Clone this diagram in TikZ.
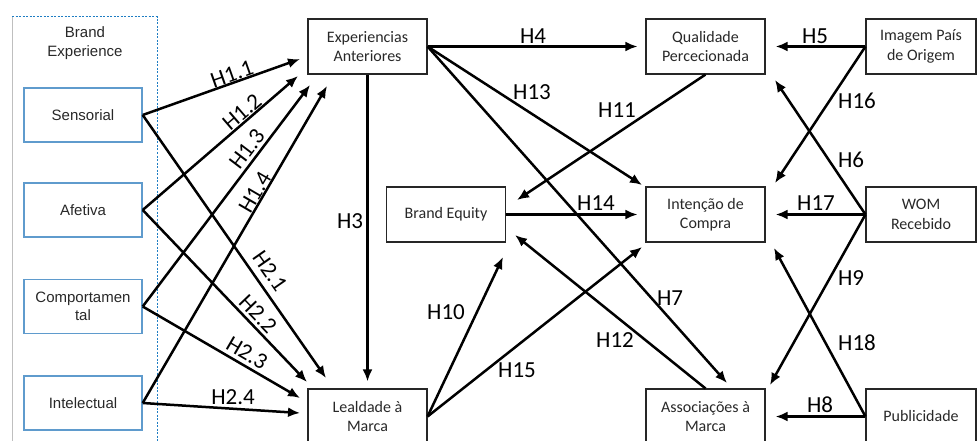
\documentclass[tikz,border=0pt]{standalone}
\usepackage{fontspec}
\setmainfont{Carlito}
\newfontfamily\arialf{Liberation Sans}
\usetikzlibrary{arrows.meta,calc}
\definecolor{boxblue}{RGB}{95,155,205}
\definecolor{dashblue}{RGB}{30,125,195}
\definecolor{txtgray}{RGB}{40,40,40}
\begin{document}
\begin{tikzpicture}[x=1pt,y=-1pt,
  box/.style={draw=black!85, line width=1.1pt, minimum width=119pt, minimum height=55pt, inner sep=0pt, align=center, font=\fontsize{16}{19.5}\selectfont, text=txtgray},
  lbox/.style={draw=boxblue, line width=1.4pt, minimum width=118pt, minimum height=54pt, inner sep=0pt, align=center, font=\arialf\fontsize{15}{18.5}\selectfont, text=txtgray},
  arr/.style={line width=2.5pt, -{Latex[length=12pt,width=10pt]}},
  hl/.style={font=\fontsize{23}{23}\selectfont, inner sep=0pt},
]
\useasboundingbox (0,0) rectangle (977,441);
% outer group frame
\draw[black!25, line width=1pt] (12,17) -- (12,445);
\draw[dashblue, line width=1pt, dash pattern=on 2pt off 1.5pt] (12,17) -- (157,17) -- (157,445);
\node[align=center, font=\arialf\fontsize{15}{18.5}\selectfont, text=txtgray] (bexp) at (85,43) {Brand\\Experience};
% left boxes
\node[lbox] (sens) at (83,115) {Sensorial};
\node[lbox] (afet) at (83,210) {Afetiva};
\node[lbox] (comp) at (83,306.5) {Comportamen\\tal};
\node[lbox] (intel) at (83,403) {Intelectual};
% other boxes
\node[box] (exp) at (367.5,46.5) {Experiencias\\Anteriores};
\node[box] (qual) at (705.5,46.5) {Qualidade\\Percecionada};
\node[box, minimum width=110pt] (img) at (921,46.5) {Imagem País\\de Origem};
\node[box] (beq) at (446,214.5) {Brand Equity};
\node[box] (int) at (705.5,214.5) {Intenção de\\Compra};
\node[box, minimum width=110pt] (wom) at (921,214.5) {WOM\\Recebido};
\node[box] (leal) at (367.5,416.5) {Lealdade à\\Marca};
\node[box] (assoc) at (705.5,416.5) {Associações à\\Marca};
\node[box, minimum width=110pt] (pub) at (921,416.5) {Publicidade};
% tip coordinates
\coordinate (tA1) at (300,59);
\coordinate (tA2) at (298,76);
\coordinate (tA3) at (310,85);
\coordinate (tA4) at (327,86);
\coordinate (tB1) at (326,378);
\coordinate (tB2) at (307,382);
\coordinate (tB3) at (300,398);
\coordinate (tB4) at (300,413);
\coordinate (tH13) at (642,185);
\coordinate (tH7) at (727,383);
\coordinate (tH11) at (517,200);
\coordinate (tH10) at (503,257);
\coordinate (tH15) at (642,247);
\coordinate (tH12) at (515,235);
\coordinate (tH16) at (775,183);
\coordinate (tH6) at (775,80);
\coordinate (tH9) at (770,385);
\coordinate (tH18) at (774,248);
% arrows
\draw[arr] (sens.east) -- (tA1);
\draw[arr] (afet.east) -- (tA2);
\draw[arr] (comp.east) -- (tA3);
\draw[arr] (intel.east) -- (tA4);
\draw[arr] (sens.east) -- (tB1);
\draw[arr] (afet.east) -- (tB2);
\draw[arr] (comp.east) -- (tB3);
\draw[arr] (intel.east) -- (tB4);
\draw[arr, shorten >=7pt] (exp.south) -- (leal.north);
\draw[arr, shorten >=8pt] (exp.east) -- (qual.west);
\draw[arr] (exp.east) -- (tH13);
\draw[arr] (exp.east) -- (tH7);
\draw[arr] (qual.south) -- (tH11);
\draw[arr, shorten >=8pt] (beq.east) -- (int.west);
\draw[arr] (leal.east) -- (tH10);
\draw[arr] (leal.east) -- (tH15);
\draw[arr] (assoc.north) -- (tH12);
\draw[arr, shorten >=10pt] (img.west) -- (qual.east);
\draw[arr] (img.west) -- (tH16);
\draw[arr] (wom.west) -- (tH6);
\draw[arr, shorten >=10pt] (wom.west) -- (int.east);
\draw[arr] (wom.west) -- (tH9);
\draw[arr] (pub.west) -- (tH18);
\draw[arr, shorten >=10pt] (pub.west) -- (assoc.east);
% labels
\node[hl, rotate=19.5] (l11) at (232,74) {H1.1};
\node[hl, rotate=40.7] (l12) at (242,112) {H1.2};
\node[hl, rotate=52.8] (l13) at (247,149) {H1.3};
\node[hl, rotate=59.7] (l14) at (255,192) {H1.4};
\node[hl, rotate=-55] (l21) at (270,271) {H2.1};
\node[hl, rotate=-46.2] (l22) at (258,314) {H2.2};
\node[hl, rotate=-30.2] (l23) at (247,353) {H2.3};
\node[hl] (l24) at (233,397) {H2.4};
\node[hl] (l3) at (350,221) {H3};
\node[hl] (l4) at (533,36) {H4};
\node[hl] (l13h) at (532,92) {H13};
\node[hl] (l11h) at (617,110) {H11};
\node[hl] (l14h) at (596,203) {H14};
\node[hl] (l10) at (446,312) {H10};
\node[hl] (l15) at (517,370) {H15};
\node[hl] (l12h) at (615,340) {H12};
\node[hl] (l7) at (670,298) {H7};
\node[hl] (l5) at (815,36) {H5};
\node[hl] (l16) at (857,101) {H16};
\node[hl] (l6) at (851,160) {H6};
\node[hl] (l17) at (816,203) {H17};
\node[hl] (l9) at (851,278) {H9};
\node[hl] (l18) at (857,343) {H18};
\node[hl] (l8) at (820,405) {H8};
\end{tikzpicture}
\end{document}
